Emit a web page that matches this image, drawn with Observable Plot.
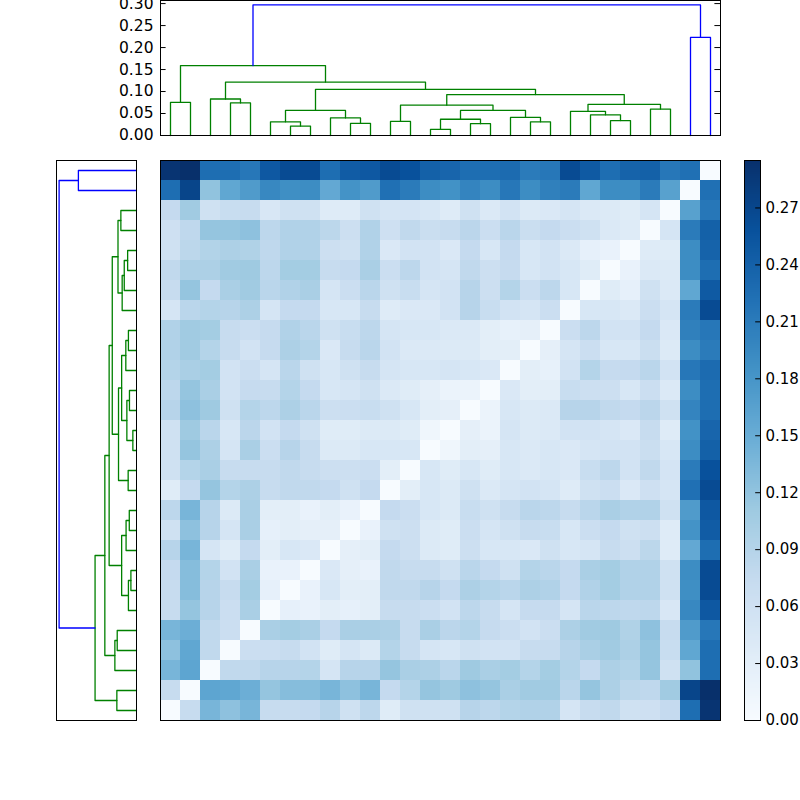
<!DOCTYPE html>
<html><head><meta charset="utf-8">
<script src="https://cdn.jsdelivr.net/npm/d3@7"></script>
<script src="https://cdn.jsdelivr.net/npm/@observablehq/plot@0.6"></script>
<style>
html,body{margin:0;padding:0;background:#fff;}
#wrap{position:relative;width:800px;height:800px;overflow:hidden;background:#fff;}
#wrap svg{position:absolute;left:0;top:0;background:transparent;overflow:visible;}
</style></head><body><div id="wrap"></div>
<script>
// ---- data: leaf order positions 0..27 (dendrogram order) ----
const leafIds = d3.range(28);
// lower triangle of the distance matrix: row for leaf i (i = 1..27), values for leaves 0..i-1
const lowerTri = [
 [0.072],
 [0.138,0.16],
 [0.122,0.157,0.078],
 [0.138,0.147,0.078,0.066],
 [0.072,0.117,0.088,0.066,0.1],
 [0.072,0.128,0.088,0.072,0.105,0.025],
 [0.075,0.128,0.09,0.055,0.1,0.02,0.02],
 [0.088,0.138,0.05,0.035,0.075,0.03,0.047,0.043],
 [0.06,0.122,0.088,0.05,0.1,0.025,0.03,0.027,0.027],
 [0.082,0.138,0.088,0.04,0.1,0.03,0.03,0.02,0.03,0.02],
 [0.035,0.075,0.117,0.09,0.097,0.072,0.078,0.078,0.075,0.06,0.075],
 [0.06,0.09,0.1,0.072,0.072,0.072,0.078,0.072,0.064,0.064,0.066,0.03],
 [0.06,0.117,0.097,0.05,0.1,0.066,0.088,0.072,0.04,0.04,0.047,0.047,0.047],
 [0.06,0.11,0.085,0.047,0.084,0.055,0.075,0.06,0.035,0.035,0.04,0.04,0.035,0.012],
 [0.088,0.122,0.11,0.06,0.09,0.082,0.097,0.085,0.064,0.066,0.07,0.06,0.047,0.03,0.027],
 [0.082,0.117,0.1,0.055,0.073,0.072,0.09,0.075,0.047,0.05,0.06,0.042,0.035,0.027,0.018,0.018],
 [0.09,0.1,0.105,0.055,0.066,0.05,0.085,0.06,0.047,0.06,0.072,0.05,0.047,0.047,0.05,0.047,0.043],
 [0.093,0.108,0.09,0.072,0.055,0.073,0.097,0.09,0.043,0.072,0.085,0.055,0.042,0.042,0.04,0.04,0.03,0.03],
 [0.093,0.108,0.105,0.072,0.066,0.073,0.093,0.085,0.06,0.07,0.082,0.05,0.047,0.047,0.042,0.042,0.03,0.024,0.027],
 [0.05,0.085,0.09,0.088,0.097,0.05,0.075,0.075,0.047,0.047,0.072,0.037,0.043,0.043,0.055,0.088,0.07,0.055,0.05,0.066],
 [0.072,0.117,0.075,0.1,0.108,0.085,0.093,0.1,0.05,0.066,0.085,0.06,0.07,0.05,0.055,0.088,0.064,0.09,0.066,0.082,0.047],
 [0.078,0.097,0.097,0.108,0.11,0.082,0.105,0.105,0.072,0.075,0.1,0.066,0.082,0.055,0.05,0.078,0.064,0.073,0.047,0.055,0.047,0.035],
 [0.06,0.083,0.092,0.097,0.094,0.08,0.093,0.093,0.064,0.06,0.093,0.043,0.055,0.055,0.043,0.075,0.047,0.075,0.047,0.055,0.042,0.025,0.02],
 [0.062,0.08,0.117,0.117,0.122,0.082,0.093,0.093,0.083,0.064,0.093,0.062,0.078,0.067,0.072,0.084,0.066,0.085,0.067,0.075,0.066,0.06,0.042,0.037],
 [0.075,0.108,0.06,0.07,0.072,0.046,0.06,0.06,0.037,0.037,0.06,0.05,0.052,0.047,0.037,0.06,0.042,0.055,0.04,0.043,0.05,0.042,0.04,0.035,0.05],
 [0.225,0.272,0.12,0.157,0.172,0.195,0.188,0.19,0.155,0.183,0.172,0.222,0.21,0.19,0.184,0.2,0.19,0.215,0.19,0.205,0.21,0.157,0.19,0.19,0.21,0.165],
 [0.29,0.295,0.225,0.225,0.215,0.25,0.265,0.265,0.225,0.245,0.25,0.265,0.258,0.24,0.235,0.225,0.225,0.228,0.21,0.215,0.265,0.248,0.225,0.237,0.24,0.215,0.222]
];
// linkage: [left child, right child, merge height]; new cluster ids start at 28
const linkage = [
 [13,14,0.014],[6,7,0.0215],[15,16,0.027],[9,10,0.0277],[5,29,0.031],[18,19,0.031],
 [11,12,0.032],[22,23,0.034],[28,30,0.037],[8,31,0.040],[17,33,0.041],[21,35,0.047],
 [20,39,0.055],[32,37,0.057],[36,38,0.057],[24,25,0.060],[34,42,0.069],[40,43,0.071],
 [3,4,0.074],[0,1,0.0754],[2,46,0.083],[44,45,0.093],[41,49,0.105],[48,50,0.1215],
 [47,51,0.159],[26,27,0.223],[52,53,0.297]
];
const dendroTicks = [0,0.05,0.10,0.15,0.20,0.25,0.30];
const colorTicks = [0,0.03,0.06,0.09,0.12,0.15,0.18,0.21,0.24,0.27];

// ---- styles ----
const blues9 = ["#f7fbff","#deebf7","#c6dbef","#9ecae1","#6baed6","#4292c6","#2171b5","#08519c","#08306b"];
const GREEN = "#008000", BLUE = "#0000ff";
const FONT = {fontFamily:"'DejaVu Sans', sans-serif", fontSize:"15.5px", background:"transparent", color:"black"};
const FONT_CB = {...FONT, fontSize:"15px"};
const DMAX = 0.307;

// ---- build matrix ----
const N = leafIds.length;
const dist = (i,j) => i===j ? 0 : (i>j ? lowerTri[i-1][j] : lowerTri[j-1][i]);
const cells = [];
for (const i of leafIds) for (const j of leafIds) cells.push({row:i, col:j, value:dist(i,j)});
const vmax = d3.max(cells, d=>d.value);
const colorScale = {type:"linear", domain:[0, vmax], interpolate: d3.piecewise(d3.interpolateRgb, blues9)};

// ---- dendrogram links ----
const pos = {}, hgt = {};
leafIds.forEach(i => { pos[i] = i + 0.5; hgt[i] = 0; });
const threshold = 0.7 * d3.max(linkage, d=>d[2]);
const linkPts = [];
linkage.forEach(([a,b,h],k) => {
  const id = N + k;
  pos[id] = (pos[a]+pos[b])/2; hgt[id] = h;
  const color = h > threshold ? BLUE : GREEN;
  [[pos[a],hgt[a]],[pos[a],h],[pos[b],h],[pos[b],hgt[b]]].forEach(([p,v],o) =>
    linkPts.push({id, o, p, v, color}));
});
const greenPts = linkPts.filter(d=>d.color===GREEN);
const bluePts = linkPts.filter(d=>d.color===BLUE);

const wrap = document.getElementById("wrap");

// ---- heatmap ----
wrap.appendChild(Plot.plot({
  width:800, height:800, marginLeft:160, marginRight:80, marginTop:160, marginBottom:80,
  style: FONT,
  x:{type:"band", domain:leafIds, padding:0, axis:null},
  y:{type:"band", domain:leafIds.slice().reverse(), padding:0, axis:null},
  color: colorScale,
  marks:[
    Plot.cell(cells, {x:"col", y:"row", fill:"value", inset:0, shapeRendering:"crispEdges"}),
    Plot.frame({stroke:"black", strokeWidth:1})
  ]
}));

// ---- top dendrogram ----
wrap.appendChild(Plot.plot({
  width:800, height:800, marginLeft:160, marginRight:80, marginTop:0, marginBottom:665,
  style: FONT,
  x:{domain:[0,N], axis:null},
  y:{domain:[0,DMAX], axis:null},
  marks:[
    Plot.line(greenPts, {x:"p", y:"v", z:"id", stroke:GREEN, strokeWidth:1.3}),
    Plot.line(bluePts, {x:"p", y:"v", z:"id", stroke:BLUE, strokeWidth:1.3}),
    Plot.ruleY(dendroTicks, {y:d=>d, x1:0, x2:0.28, stroke:"black"}),
    Plot.ruleY(dendroTicks, {y:d=>d, x1:N-0.28, x2:N, stroke:"black"}),
    Plot.axisY(dendroTicks, {anchor:"left", tickSize:0, tickPadding:7, tickFormat:d3.format(".2f"), label:null}),
    Plot.frame({stroke:"black", strokeWidth:1})
  ]
}));

// ---- left dendrogram ----
wrap.appendChild(Plot.plot({
  width:800, height:800, marginLeft:56, marginRight:664, marginTop:160, marginBottom:80,
  style: FONT,
  x:{domain:[0,DMAX], reverse:true, axis:null},
  y:{domain:[0,N], axis:null},
  marks:[
    Plot.line(greenPts, {x:"v", y:"p", z:"id", stroke:GREEN, strokeWidth:1.3}),
    Plot.line(bluePts, {x:"v", y:"p", z:"id", stroke:BLUE, strokeWidth:1.3}),
    Plot.frame({stroke:"black", strokeWidth:1})
  ]
}));

// ---- colorbar ----
const steps = d3.range(280).map(k => ({v0: k*vmax/280, v1:(k+1)*vmax/280}));
wrap.appendChild(Plot.plot({
  width:800, height:800, marginLeft:744, marginRight:40, marginTop:160, marginBottom:80,
  style: FONT_CB,
  x:{domain:[0,1], axis:null},
  y:{domain:[0,vmax], axis:null},
  color: colorScale,
  marks:[
    Plot.rect(steps, {x1:0, x2:1, y1:"v0", y2:"v1", fill:d=>(d.v0+d.v1)/2, inset:0, shapeRendering:"crispEdges"}),
    Plot.ruleY(colorTicks, {y:d=>d, x1:0.7, x2:1, stroke:"black"}),
    Plot.axisY(colorTicks, {anchor:"right", tickSize:0, tickPadding:5, tickFormat:d3.format(".2f"), label:null}),
    Plot.frame({stroke:"black", strokeWidth:1})
  ]
}));
</script></body></html>
